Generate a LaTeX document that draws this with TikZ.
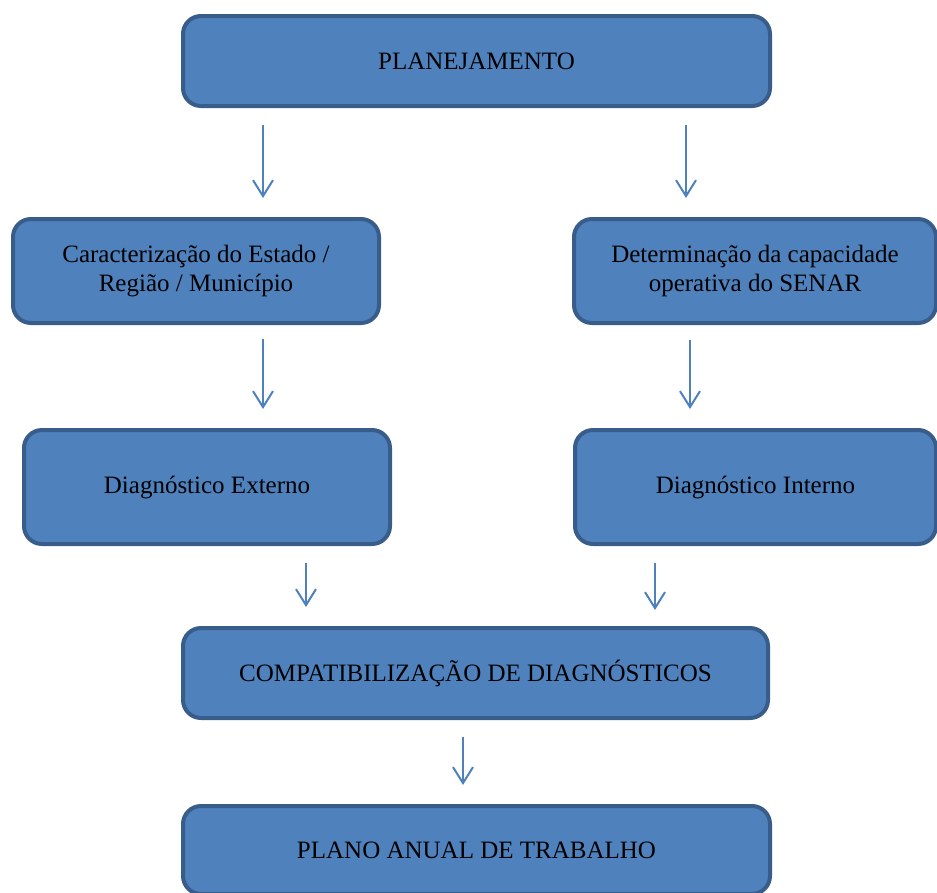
\documentclass[tikz,border=0pt]{standalone}
\usepackage{fontspec}
\setmainfont{Liberation Serif}
\usetikzlibrary{arrows.meta}
\definecolor{azul}{HTML}{4F81BD}
\definecolor{azulescuro}{HTML}{385D8A}

\begin{document}
\begin{tikzpicture}[x=1pt,y=-1pt,
  caixa/.style={draw=azulescuro, fill=azul, line width=4pt, rounded corners=18pt,
    align=center, inner sep=0pt, font=\fontsize{25}{29}\selectfont},
  seta/.style={draw=azul, line width=2pt, -{Straight Barb[length=16pt,width=20pt]},
    shorten <=17pt, shorten >=19pt}]
\useasboundingbox (0,0) rectangle (937,892);
% caixas do fluxo
\node[caixa, minimum width=587pt, minimum height=90pt] (plan) at (476.5,61) {PLANEJAMENTO};
\node[caixa, minimum width=366pt, minimum height=104pt] (carac) at (196,271) {Caracterização do Estado /\\Região / Município};
\node[caixa, minimum width=362pt, minimum height=104pt] (capac) at (755,271) {Determinação da capacidade\\operativa do SENAR};
\node[caixa, minimum width=366pt, minimum height=114pt] (diagext) at (207,487) {Diagnóstico Externo};
\node[caixa, minimum width=361pt, minimum height=114pt] (diagint) at (755.5,487) {Diagnóstico Interno};
\node[caixa, minimum width=585pt, minimum height=90pt] (compat) at (475.5,673) {COMPATIBILIZAÇÃO DE DIAGNÓSTICOS};
\node[caixa, minimum width=587pt, minimum height=88pt] (plano) at (476.5,850) {PLANO ANUAL DE TRABALHO};
% setas
\draw[seta] (plan.south -| 263,0) -- (carac.north -| 263,0);
\draw[seta] (plan.south -| 686,0) -- (capac.north -| 686,0);
\draw[seta, shorten <=14pt] (carac.south -| 263,0) -- (diagext.north -| 263,0);
\draw[seta, shorten <=15pt] (capac.south -| 690,0) -- (diagint.north -| 690,0);
\draw[seta] (diagext.south -| 306,0) -- (compat.north -| 306,0);
\draw[seta, shorten >=16pt] (diagint.south -| 655,0) -- (compat.north -| 655,0);
\draw[seta] (compat.south -| 463,0) -- (plano.north -| 463,0);
\end{tikzpicture}
\end{document}
